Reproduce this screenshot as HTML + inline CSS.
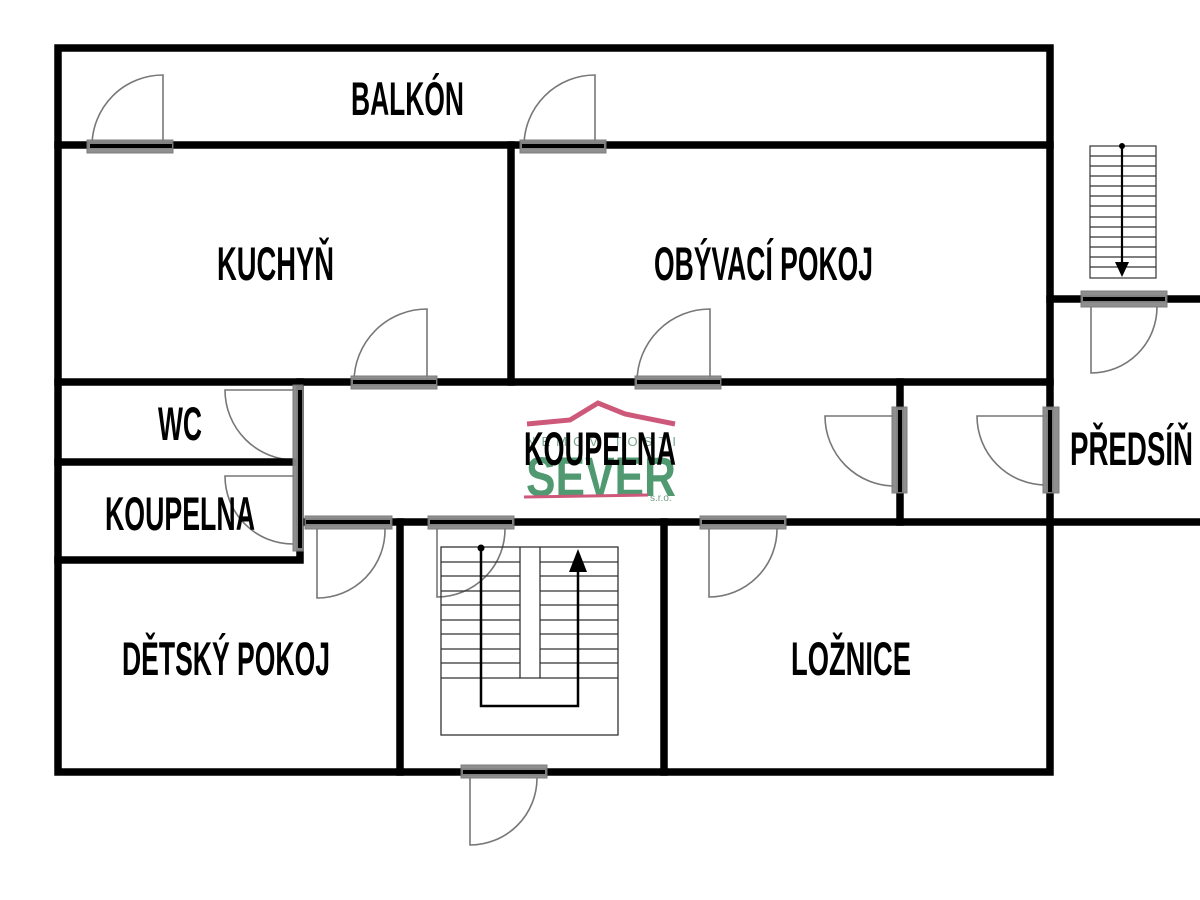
<!DOCTYPE html>
<html><head><meta charset="utf-8"><style>
html,body{margin:0;padding:0;background:#fff;width:1200px;height:900px;overflow:hidden}
svg{display:block}
.t{font-family:"Liberation Sans Narrow","Liberation Sans",sans-serif;font-weight:bold;font-size:47px;fill:#000}
</style></head><body>
<svg width="1200" height="900" viewBox="0 0 1200 900" xmlns="http://www.w3.org/2000/svg">
<rect width="1200" height="900" fill="#fff"/>
<g fill="none" stroke="#777" stroke-width="1.6">
  <path d="M163 146 V75 A71 71 0 0 0 92 146"/>
  <path d="M595 146 V75 A71 71 0 0 0 524 146"/>
  <path d="M427 382 V309 A73 73 0 0 0 354 382"/>
  <path d="M710 382 V309 A73 73 0 0 0 637 382"/>
  <path d="M295 390 H225 A70 70 0 0 0 295 460"/>
  <path d="M295 476 H225 A68 68 0 0 0 293 544"/>
  <path d="M317 528 V598 A68 68 0 0 0 385 528"/>
  <path d="M437 528 V597 A68 68 0 0 0 505 528"/>
  <path d="M709 528 V597 A68 68 0 0 0 777 528"/>
  <path d="M895 416 H825 A70 70 0 0 0 895 486"/>
  <path d="M1046 416 H977 A69 69 0 0 0 1046 485"/>
  <path d="M1091 307 V373 A66 66 0 0 0 1157 307"/>
  <path d="M470 778 V845 A67 67 0 0 0 537 778"/>
</g>
<g fill="none" stroke="#333" stroke-width="1.3">
  <rect x="441" y="547" width="177" height="188"/>
  <path d="M520 547 V678 H540 V547"/>
  <path d="M441 562 H520 M441 576 H520 M441 591 H520 M441 605 H520 M441 620 H520 M441 634 H520 M441 649 H520 M441 663 H520 M441 678 H520"/>
  <path d="M540 562 H618 M540 576 H618 M540 591 H618 M540 605 H618 M540 620 H618 M540 634 H618 M540 649 H618 M540 663 H618 M540 678 H618"/>
</g>
<path d="M481 548 V706 H578 V568" fill="none" stroke="#000" stroke-width="2.5"/>
<circle cx="481" cy="548" r="3.5" fill="#000"/>
<polygon points="578,549 569,572 587,572" fill="#000"/>
<g fill="none" stroke="#333" stroke-width="1.2">
  <rect x="1090" y="146" width="66" height="132"/>
  <path d="M1090 156 H1156 M1090 166 H1156 M1090 176 H1156 M1090 186 H1156 M1090 196 H1156 M1090 206 H1156 M1090 217 H1156 M1090 227 H1156 M1090 237 H1156 M1090 247 H1156 M1090 257 H1156 M1090 267 H1156"/>
</g>
<path d="M1122 146 V262" stroke="#000" stroke-width="2.2"/>
<circle cx="1122" cy="146" r="3" fill="#000"/>
<polygon points="1122,277 1115,262 1129,262" fill="#000"/>
<g stroke="#000" stroke-width="7.5" fill="none" stroke-linecap="square">
  <path d="M58 48 H1050 V772 H58 Z"/>
  <path d="M58 145 H1050"/>
  <path d="M511 145 V382"/>
  <path d="M58 382 H1050"/>
  <path d="M58 462 H298"/>
  <path d="M58 560 H300 V382"/>
  <path d="M300 522 H1200"/>
  <path d="M400 522 V772"/>
  <path d="M664 522 V772"/>
  <path d="M900 382 V522"/>
  <path d="M1050 299 H1200"/>
</g>
<g fill="#8a8a8a" stroke="#777" stroke-width="1" opacity="0.95">
  <rect x="87" y="140" width="86" height="13"/>
  <rect x="520" y="140" width="86" height="13"/>
  <rect x="351" y="376" width="86" height="13"/>
  <rect x="635" y="376" width="86" height="13"/>
  <rect x="293" y="385" width="10" height="166"/>
  <rect x="305" y="516" width="87" height="13"/>
  <rect x="428" y="516" width="86" height="13"/>
  <rect x="700" y="516" width="86" height="13"/>
  <rect x="892" y="407" width="15" height="86"/>
  <rect x="1043" y="407" width="16" height="86"/>
  <rect x="1081" y="291" width="86" height="16"/>
  <rect x="461" y="765" width="86" height="13"/>
</g>
<g stroke="#000" stroke-width="4">
  <path d="M300 390 V548"/><path d="M900 410 V492"/><path d="M1050 410 V492"/>
  <path d="M90 146 H172"/><path d="M522 146 H604"/><path d="M353 382 H436"/><path d="M637 382 H720"/>
  <path d="M306 522 H390"/><path d="M430 522 H512"/><path d="M702 522 H784"/><path d="M1083 299 H1165"/><path d="M463 772 H545"/>
</g>
<g opacity="0.9">
  <path d="M527 424 L570 420 L598 403 L625 414 L675 424" fill="none" stroke="#c8476b" stroke-width="5"/>
  <text x="601" y="496" text-anchor="middle" font-family="Liberation Sans,sans-serif" font-weight="bold" font-size="56" fill="#3f8f62" textLength="150" lengthAdjust="spacingAndGlyphs">SEVER</text>
  <text x="601" y="446" text-anchor="middle" font-family="Liberation Sans,sans-serif" font-size="13" fill="#6a9d80" textLength="150" lengthAdjust="spacing">NEMOVITOSTI</text>
  <path d="M524 497 L648 495" stroke="#c8476b" stroke-width="3"/>
  <text x="650" y="501" font-family="Liberation Sans,sans-serif" font-size="10" fill="#5f8f74">s.r.o.</text>
</g>
<text class="t" x="351" y="115" textLength="113" lengthAdjust="spacingAndGlyphs">BALKÓN</text>
<text class="t" x="217" y="280" textLength="117" lengthAdjust="spacingAndGlyphs">KUCHYŇ</text>
<text class="t" x="654" y="280" textLength="219" lengthAdjust="spacingAndGlyphs">OBÝVACÍ POKOJ</text>
<text class="t" x="158" y="440" textLength="44" lengthAdjust="spacingAndGlyphs">WC</text>
<text class="t" x="105" y="530" textLength="150" lengthAdjust="spacingAndGlyphs">KOUPELNA</text>
<text class="t" x="524" y="465" textLength="152" lengthAdjust="spacingAndGlyphs">KOUPELNA</text>
<text class="t" x="1070" y="465" textLength="123" lengthAdjust="spacingAndGlyphs">PŘEDSÍŇ</text>
<text class="t" x="122" y="675" textLength="208" lengthAdjust="spacingAndGlyphs">DĚTSKÝ POKOJ</text>
<text class="t" x="791" y="675" textLength="120" lengthAdjust="spacingAndGlyphs">LOŽNICE</text>
</svg>
</body></html>
